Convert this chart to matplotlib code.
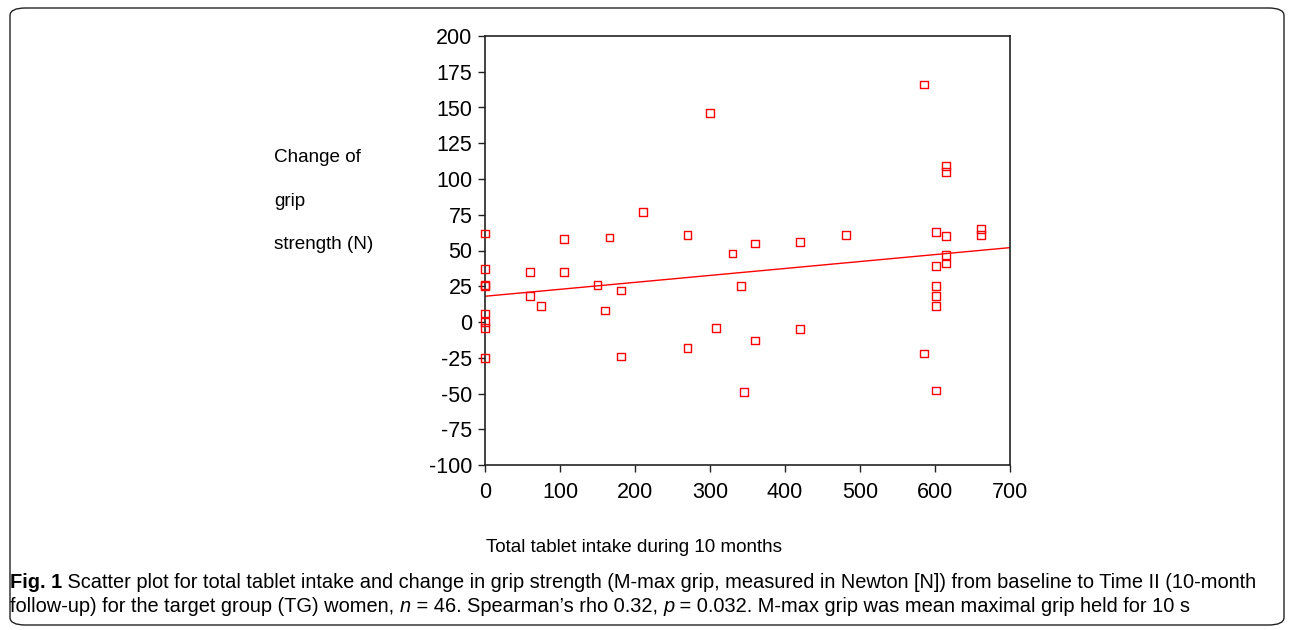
import matplotlib
matplotlib.use("Agg")
import matplotlib.pyplot as plt
from matplotlib.patches import FancyBboxPatch
import numpy as np

# ---- data ----
tablet_intake = [0, 0, 0, 0, 0, 0, 0, 0,
                 60, 60, 75, 105, 105, 150, 160, 166, 181, 181, 211, 270, 270, 308, 300,
                 330, 341, 345, 360, 360, 420, 420, 481,
                 585, 585, 601, 601, 601, 601, 601, 601, 615, 615, 615, 615, 615, 661, 661]
grip_change = [62, 37, 26, 25, 6, 0, -4, -25,
               35, 18, 11, 58, 35, 26, 8, 59, 22, -24, 77, 61, -18, -4, 146,
               48, 25, -49, 55, -13, 56, -5, 61,
               166, -22, 63, 39, 25, 18, 11, -48, 109, 105, 60, 47, 41, 65, 61]
fit_intercept = 18.0
fit_slope = (52.0 - 18.0) / 700.0
x_ticks = [0, 100, 200, 300, 400, 500, 600, 700]
y_ticks = [200, 175, 150, 125, 100, 75, 50, 25, 0, -25, -50, -75, -100]

W, H, DPI = 1292, 630, 100
fig = plt.figure(figsize=(W / DPI, H / DPI), dpi=DPI)
FONT = ["Liberation Sans", "DejaVu Sans"]
CAPFONT = ["Liberation Sans", "DejaVu Sans"]

def fx(px): return px / W
def fy(py): return 1 - py / H

# rounded frame
frame = FancyBboxPatch((fx(10), fy(625)), fx(1284) - fx(10), fy(8) - fy(625),
                       boxstyle="round,pad=0,rounding_size=0.012",
                       transform=fig.transFigure, fill=False, edgecolor="#222222",
                       linewidth=1.0)
fig.patches.append(frame)

ax = fig.add_axes([fx(485), fy(465), fx(1010) - fx(485), fy(36) - fy(465)])
ax.scatter(tablet_intake, grip_change, marker="s", s=30, facecolors="none",
           edgecolors="red", linewidths=1.0, zorder=3, clip_on=False)
xl = np.array([0, 700])
ax.plot(xl, fit_intercept + fit_slope * xl, color="red", linewidth=1.0, zorder=2)
ax.set_xlim(0, 700)
ax.set_ylim(-100, 200)
ax.set_xticks(x_ticks)
ax.set_yticks(y_ticks)
ax.set_xticklabels([str(v) for v in x_ticks], fontsize=15.5, family=FONT)
ax.set_yticklabels([str(v) for v in y_ticks], fontsize=15.5, family=FONT)
ax.tick_params(direction="out", length=5, width=1, color="#222222")
ax.tick_params(axis="x", pad=7)
ax.tick_params(axis="y", pad=4)
for s in ax.spines.values():
    s.set_linewidth(1.2)
    s.set_color("#222222")

# y label lines
for txt, py in [("Change of", 158), ("grip", 202), ("strength (N)", 245)]:
    fig.text(fx(274), fy(py), txt, ha="left", va="center", fontsize=13.6, family=FONT)

fig.text(fx(486), fy(548), "Total tablet intake during 10 months", ha="left",
         va="center", fontsize=13.6, family=FONT)

# caption, built piece by piece
renderer = fig.canvas.get_renderer()
def measure(pieces, size):
    w = 0
    for txt, weight, style in pieces:
        t = fig.text(0, 0, txt, fontsize=size, family=CAPFONT, fontweight=weight,
                     fontstyle=style)
        w += t.get_window_extent(renderer=renderer).width
        t.remove()
    return w

def line(pieces, x0, py, size):
    x = x0
    for txt, weight, style in pieces:
        t = fig.text(fx(x), fy(py), txt, ha="left", va="center", fontsize=size,
                     family=CAPFONT, fontweight=weight, fontstyle=style)
        x += t.get_window_extent(renderer=renderer).width
    return x

line1 = [("Fig. 1", "bold", "normal"),
         (" Scatter plot for total tablet intake and change in grip strength (M-max grip, measured in Newton [N]) from baseline to Time II (10-month", "normal", "normal")]
line2 = [("follow-up) for the target group (TG) women, ", "normal", "normal"),
         ("n", "normal", "italic"),
         (" = 46. Spearman\u2019s rho 0.32, ", "normal", "normal"),
         ("p", "normal", "italic"),
         (" = 0.032. M-max grip was mean maximal grip held for 10 s", "normal", "normal")]
base = 12.0
cap_size = base * 1252.0 / measure(line1, base)
line(line1, 10, 582, cap_size)
line(line2, 10, 607, cap_size)

fig.savefig("out.png", dpi=DPI)
